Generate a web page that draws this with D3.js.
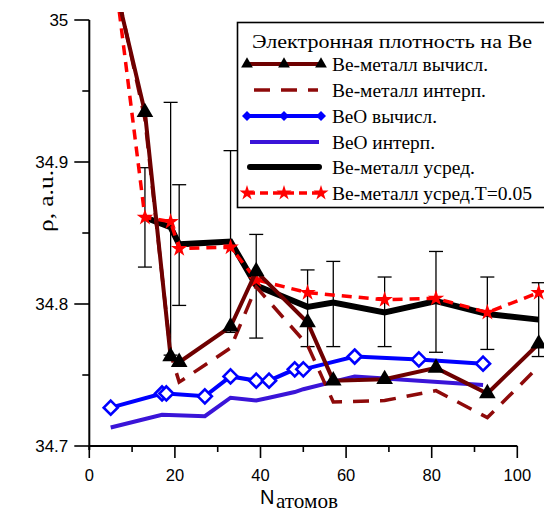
<!DOCTYPE html>
<html><head><meta charset="utf-8">
<script src="https://cdn.jsdelivr.net/npm/d3@7"></script>
</head><body style="margin:0">
<script>
// ---- data ----
const beMetalCalcN = [7, 13, 19, 21, 33, 39, 51, 57, 69, 81, 93, 105];
const beMetalCalcV = [35.012, 34.935, 34.763, 34.759, 34.784, 34.823, 34.787, 34.746, 34.747, 34.755, 34.737, 34.772];
const beMetalInterpN = [7, 13, 19, 21, 33, 39, 51, 57, 69, 81, 93, 105];
const beMetalInterpV = [35.014, 34.930, 34.765, 34.745, 34.769, 34.812, 34.771, 34.731, 34.732, 34.739, 34.720, 34.756];
const beoCalcN = [5, 17, 18, 27, 33, 39, 42, 48, 50, 62, 77, 92];
const beoCalcV = [34.727, 34.737, 34.737, 34.735, 34.749, 34.746, 34.746, 34.754, 34.754, 34.763, 34.761, 34.758];
const beoInterpN = [5, 17, 27, 33, 39, 42, 48, 50, 62, 77, 92];
const beoInterpV = [34.713, 34.722, 34.721, 34.734, 34.732, 34.734, 34.738, 34.740, 34.749, 34.746, 34.743];
const avgN = [13, 19, 21, 33, 39, 51, 57, 69, 81, 93, 105];
const avgV = [34.861, 34.854, 34.842, 34.844, 34.813, 34.798, 34.801, 34.794, 34.802, 34.793, 34.789];
const avgHi = [34.896, 34.942, 34.884, 34.908, 34.849, 34.824, 34.830, 34.819, 34.837, 34.819, 34.815];
const avgLo = [34.826, 34.764, 34.799, 34.780, 34.776, 34.770, 34.770, 34.770, 34.766, 34.768, 34.763];
const avgTN = [7, 13, 19, 21, 33, 39, 51, 69, 81, 93, 105];
const avgTV = [35.006, 34.861, 34.858, 34.839, 34.840, 34.817, 34.808, 34.803, 34.804, 34.794, 34.808];
const xTicks = [0, 20, 40, 60, 80, 100];
const xMinor = [10, 30, 50, 70, 90];
const yTicks = [34.7, 34.8, 34.9, 35];
const yMinor = [34.75, 34.85, 34.95];
const legendTitle = "Электронная плотность на Ве";
const legendLabels = ["Be-металл вычисл.", "Be-металл интерп.", "BeO вычисл.", "BeO интерп.", "Be-металл усред.", "Be-металл усред.Т=0.05"];

// ---- chart ----
const W = 544, H = 515;
const SERIF = '"Liberation Serif"';
const SANS = '"Liberation Sans"';
const svg = d3.select("body").append("svg").attr("width", W).attr("height", H).style("display", "block");
const x = d3.scaleLinear().domain([0, 100]).range([89.3, 517.3]);
const y = d3.scaleLinear().domain([34.7, 35]).range([446, 20]);

const C = {
  beCalc: "#6e0000", beInt: "#8e0a0a", beoCalc: "#0000ff", beoInt: "#3a14d8", avg: "#000000", avgT: "#ff0000"
};
const zip = (a, b) => a.map((d, i) => [d, b[i]]);
const line = d3.line().x(d => x(d[0])).y(d => y(d[1]));
function txt(g, fam, size) {
  return g.append("text").attr("font-size", size).style("font-family", fam);
}

svg.append("defs").append("clipPath").attr("id", "clip")
  .append("rect").attr("x", 0).attr("y", 12).attr("width", W).attr("height", H);

// axes
const ax = svg.append("g");
ax.append("line").attr("x1", x(0)).attr("x2", x(0)).attr("y1", y(35)).attr("y2", y(34.7) + 4)
  .attr("stroke", "#000").attr("stroke-width", 2);
ax.append("line").attr("x1", x(0)).attr("x2", x(100)).attr("y1", y(34.7)).attr("y2", y(34.7))
  .attr("stroke", "#000").attr("stroke-width", 2);
yTicks.forEach(t => {
  ax.append("line").attr("x1", x(0) - 15).attr("x2", x(0)).attr("y1", y(t)).attr("y2", y(t)).attr("stroke", "#000").attr("stroke-width", 1.6);
  txt(ax, SANS, 17).attr("x", x(0) - 21).attr("y", y(t) + 6).attr("text-anchor", "end").text(d3.format("")(t));
});
yMinor.forEach(t => {
  ax.append("line").attr("x1", x(0) - 7).attr("x2", x(0)).attr("y1", y(t)).attr("y2", y(t)).attr("stroke", "#000").attr("stroke-width", 1.6);
});
xTicks.forEach(t => {
  ax.append("line").attr("x1", x(t)).attr("x2", x(t)).attr("y1", y(34.7)).attr("y2", y(34.7) + 12).attr("stroke", "#000").attr("stroke-width", 1.6);
  txt(ax, SANS, 16.5).attr("x", x(t)).attr("y", 481).attr("text-anchor", "middle").text(t);
});
xMinor.forEach(t => {
  ax.append("line").attr("x1", x(t)).attr("x2", x(t)).attr("y1", y(34.7)).attr("y2", y(34.7) + 6).attr("stroke", "#000").attr("stroke-width", 1.6);
});
// axis titles
txt(ax, SANS, 20).attr("x", 260).attr("y", 504).text("N");
txt(ax, SERIF, 21).attr("x", 276).attr("y", 508).attr("textLength", 62).attr("lengthAdjust", "spacingAndGlyphs").text("атомов");
txt(ax, SERIF, 20).attr("transform", "translate(53,201) rotate(-90)").attr("text-anchor", "middle")
  .attr("textLength", 62).attr("lengthAdjust", "spacingAndGlyphs").text("ρ, a.u.");

// plot
const plot = svg.append("g").attr("clip-path", "url(#clip)");

// error bars
const eb = plot.append("g").attr("stroke", "#000").attr("stroke-width", 1.3);
avgN.forEach((n, i) => {
  eb.append("line").attr("x1", x(n)).attr("x2", x(n)).attr("y1", y(avgHi[i])).attr("y2", y(avgLo[i]));
  [avgHi[i], avgLo[i]].forEach(v => eb.append("line").attr("x1", x(n) - 7).attr("x2", x(n) + 7).attr("y1", y(v)).attr("y2", y(v)));
});

function path(data, color, width, dash) {
  plot.append("path").attr("d", line(data)).attr("fill", "none").attr("stroke", color)
    .attr("stroke-width", width).attr("stroke-dasharray", dash || null).attr("stroke-linejoin", "miter");
}
const triPath = d3.symbol().type(d3.symbolTriangle).size(120)();
const starPath = d3.symbol().type(d3.symbolStar).size(85)();
const diaPath = "M0,-7L7,0L0,7L-7,0Z";

path(zip(avgN, avgV), C.avg, 6);
path(zip(beoInterpN, beoInterpV), C.beoInt, 4);
path(zip(beoCalcN, beoCalcV), C.beoCalc, 4);
zip(beoCalcN, beoCalcV).forEach(d => plot.append("path").attr("d", diaPath)
  .attr("transform", `translate(${x(d[0])},${y(d[1])})`).attr("fill", "#fff").attr("stroke", C.beoCalc).attr("stroke-width", 2.6));
path(zip(avgTN, avgTV), C.avgT, 3.5, "10,7");
zip(avgTN, avgTV).slice(1).forEach(d => plot.append("path").attr("d", starPath)
  .attr("transform", `translate(${x(d[0])},${y(d[1])})`).attr("fill", C.avgT));
path(zip(beMetalInterpN, beMetalInterpV), C.beInt, 3.5, "16,11");
path(zip(beMetalCalcN, beMetalCalcV), C.beCalc, 4);
zip(beMetalCalcN, beMetalCalcV).slice(1).forEach(d => plot.append("path").attr("d", triPath)
  .attr("transform", `translate(${x(d[0])},${y(d[1])})`).attr("fill", "#000"));

// legend
const lg = svg.append("g");
lg.append("rect").attr("x", 237.5).attr("y", 22.5).attr("width", 330).attr("height", 185)
  .attr("fill", "#fff").attr("stroke", "#000").attr("stroke-width", 1.6);
txt(lg, SERIF, 19.5).attr("x", 252).attr("y", 48).attr("textLength", 280).attr("lengthAdjust", "spacingAndGlyphs").text(legendTitle);
const rows = [64, 90, 116, 142, 167, 193];
const labelW = [156, 154, 105, 103, 143, 200];
const lx1 = 247, lx2 = 321, lxm = 284;
function lline(yy, color, w, dash) {
  lg.append("line").attr("x1", lx1).attr("x2", lx2).attr("y1", yy).attr("y2", yy).attr("stroke", color)
    .attr("stroke-width", w).attr("stroke-dasharray", dash || null);
}
lline(rows[0], C.beCalc, 4);
[lx1, lxm, lx2].forEach(xx => lg.append("path").attr("d", d3.symbol().type(d3.symbolTriangle).size(60)()).attr("transform", `translate(${xx},${rows[0]})`).attr("fill", "#000"));
lg.append("line").attr("x1", 254).attr("x2", 318).attr("y1", rows[1]).attr("y2", rows[1]).attr("stroke", C.beInt).attr("stroke-width", 3.5).attr("stroke-dasharray", "16,11");
lline(rows[2], C.beoCalc, 4);
[lx1, lxm, lx2].forEach(xx => lg.append("path").attr("d", "M0,-5L5,0L0,5L-5,0Z").attr("transform", `translate(${xx},${rows[2]})`).attr("fill", C.beoCalc));
lg.append("line").attr("x1", 250).attr("x2", 319).attr("y1", rows[3]).attr("y2", rows[3]).attr("stroke", C.beoInt).attr("stroke-width", 4);
lg.append("line").attr("x1", 250).attr("x2", 319).attr("y1", rows[4]).attr("y2", rows[4]).attr("stroke", C.avg).attr("stroke-width", 6).attr("stroke-linecap", "round");
lline(rows[5], C.avgT, 3.5, "8,5");
[lx1, lxm, lx2].forEach(xx => lg.append("path").attr("d", d3.symbol().type(d3.symbolStar).size(70)()).attr("transform", `translate(${xx},${rows[5]})`).attr("fill", C.avgT));
legendLabels.forEach((t, i) => txt(lg, SERIF, 18.5).attr("x", 332).attr("y", rows[i] + 6.5)
  .attr("textLength", labelW[i]).attr("lengthAdjust", "spacingAndGlyphs").text(t));
</script>
</body></html>
